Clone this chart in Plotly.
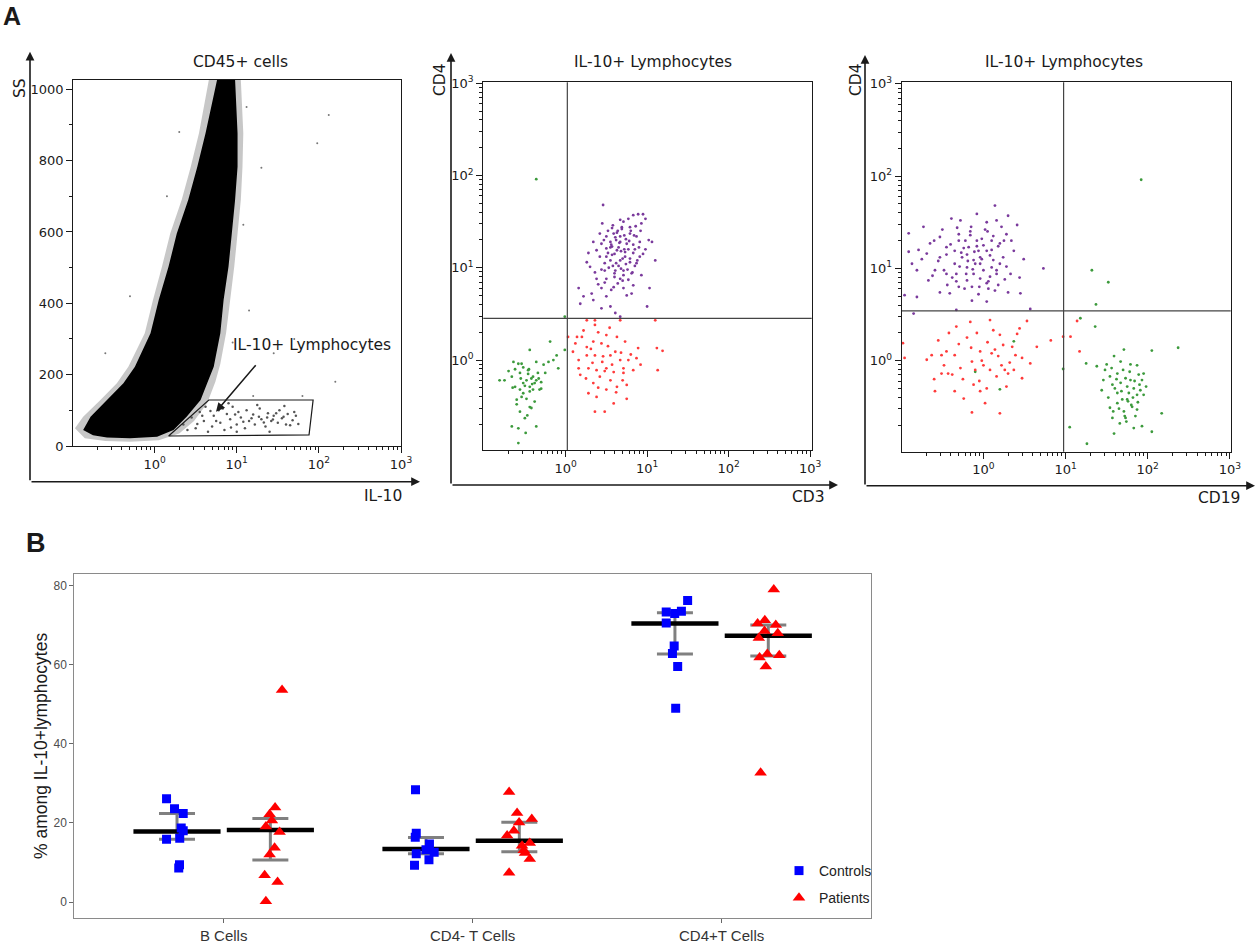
import plotly.graph_objects as go

W, H = 1259, 943

# ---------------- Panel A, left: CD45+ cells (IL-10 vs SS) ----------------
# outline of the dense black cloud (log10 IL-10, SS)
core_il10_log = [-0.87, -0.75, -0.58, -0.30, 0.03, 0.23, 0.39, 0.56, 0.64, 0.72, 0.80, 0.84,
                 0.90, 0.94, 0.98, 1.01, 1.01, 0.98, 0.76, 0.62, 0.52, 0.41, 0.27, 0.17, 0.05,
                 -0.05, -0.24, -0.38, -0.58, -0.78, -0.87]
core_ss = [45, 30, 24, 22, 26, 45, 82, 129, 176, 222, 316, 409, 503, 596, 690, 783, 877, 1026,
           1026, 877, 783, 690, 596, 503, 409, 316, 222, 176, 129, 82, 45]
# outline of the speckled halo round it
halo_il10_log = [-0.97, -0.85, -0.60, -0.30, 0.05, 0.30, 0.48, 0.64, 0.74, 0.80, 0.87, 0.92,
                 0.97, 1.01, 1.05, 1.07, 1.08, 1.05, 0.66, 0.54, 0.44, 0.33, 0.19, 0.09, -0.02,
                 -0.12, -0.32, -0.46, -0.66, -0.87, -0.97]
halo_ss = [50, 22, 14, 12, 16, 35, 70, 120, 180, 230, 316, 409, 503, 596, 690, 783, 877, 1026,
           1026, 877, 783, 690, 596, 503, 409, 316, 222, 176, 129, 82, 50]
# IL-10+ lymphocyte gate
gate_il10 = [1.48, 4.57, 85.1, 75.9, 1.48]
gate_ss = [28, 129, 129, 31, 28]
gate_dots_il10_log = [0.35, 0.45, 0.50, 0.55, 0.60, 0.62, 0.70, 0.72, 0.78, 0.80, 0.85, 0.88,
                      0.92, 0.95, 1.00, 1.02, 1.05, 1.10, 1.12, 1.15, 1.20, 1.22, 1.28, 1.30,
                      1.35, 1.38, 1.42, 1.45, 1.50, 1.52, 1.55, 1.60, 1.62, 1.68, 1.72, 1.75,
                      1.40, 1.00, 0.65, 1.25, 0.90, 1.58, 0.58, 0.75, 0.98, 1.18, 1.33, 1.48,
                      1.65, 0.83, 1.08, 1.27, 1.44, 0.68, 1.57, 0.40, 0.52, 0.93, 1.37, 1.70]
gate_dots_ss = [60, 80, 50, 95, 70, 110, 55, 85, 100, 65, 45, 90, 75, 110, 60, 95, 80, 50, 100,
                70, 88, 60, 105, 75, 55, 92, 70, 85, 65, 100, 78, 60, 90, 72, 85, 62, 40, 40, 40,
                115, 120, 112, 85, 70, 88, 78, 66, 92, 58, 105, 68, 82, 74, 98, 82, 45, 62, 52,
                80, 95]
# sparse events round the cloud
stray_il10_log = [1.98, 2.12, 1.45, 1.70, 1.80, 1.30, 1.15, 2.20, 0.30, -0.30, 1.12, 1.08, 0.95,
                  1.20, 0.15, -0.60]
stray_ss = [849, 928, 260, 300, 140, 780, 380, 180, 880, 420, 950, 620, 290, 140, 700, 260]

# ---------------- Panel A, middle: CD3 vs CD4 (log10 values) ----------------
mid_cd4pos_cd3 = [0.46, 0.45, 0.67, 0.71, 0.77, 0.83, 0.89, 0.95, 0.98, 0.93, 0.79, 0.57, 0.69,
                  0.59, 0.42, 0.50, 0.67, 0.79, 0.87, 0.34, 0.44, 0.55, 0.67, 0.75, 0.83, 0.91,
                  1.02, 1.06, 0.26, 0.38, 0.50, 0.63, 0.73, 0.83, 0.91, 1.10, 0.30, 0.42, 0.55,
                  0.67, 0.79, 0.87, 0.48, 0.61, 0.71, 0.81, 0.93, 0.38, 0.50, 0.67, 0.77, 0.16,
                  0.32, 0.44, 0.59, 0.71, 0.83, 1.03, 0.18, 0.34, 0.44, 0.55, 0.61, 0.67, 1.00,
                  0.22, 0.50, 0.75, 0.28, 0.57, 0.60, 0.65, 0.70, 0.58, 0.74, 0.62, 0.52, 0.68,
                  0.77, 0.56, 0.64, 0.72, 0.48, 0.85, 0.60,
                  0.52, 0.58, 0.63, 0.69, 0.74, 0.80, 0.86, 0.47, 0.55, 0.61, 0.66, 0.72, 0.78,
                  0.84, 0.90, 0.50, 0.57, 0.62, 0.68, 0.73, 0.79, 0.85, 0.44, 0.53, 0.60, 0.65,
                  0.71, 0.76, 0.82, 0.88, 0.40, 0.48, 0.56, 0.64, 0.70, 0.81, 0.95, 0.36, 0.92,
                  0.98]
mid_cd4pos_cd4 = [1.68, 1.48, 1.52, 1.50, 1.53, 1.57, 1.58, 1.58, 1.53, 1.48, 1.44, 1.43, 1.44,
                  1.37, 1.37, 1.34, 1.34, 1.37, 1.34, 1.28, 1.26, 1.28, 1.28, 1.26, 1.25, 1.28,
                  1.30, 1.28, 1.06, 1.19, 1.21, 1.19, 1.17, 1.16, 1.12, 1.08, 1.01, 1.12, 1.08,
                  1.08, 1.06, 1.05, 0.97, 0.97, 0.97, 0.94, 0.92, 0.88, 0.88, 0.88, 0.87, 0.78,
                  0.72, 0.78, 0.79, 0.78, 0.81, 0.78, 0.61, 0.65, 0.56, 0.58, 0.51, 0.47, 0.58,
                  0.69, 0.69, 0.70, 1.16, 1.23, 1.15, 1.22, 1.10, 1.02, 1.04, 1.30, 1.16, 0.99,
                  1.20, 1.25, 1.40, 1.35, 1.05, 1.20, 0.90,
                  1.40, 1.46, 1.38, 1.42, 1.31, 1.40, 1.45, 1.30, 1.22, 1.33, 1.27, 1.20, 1.29,
                  1.35, 1.22, 1.12, 1.14, 1.05, 1.18, 1.12, 1.10, 1.02, 0.98, 1.00, 0.94, 1.02,
                  0.92, 0.98, 0.95, 1.08, 0.82, 0.84, 0.76, 0.83, 0.86, 0.72, 1.15, 0.95, 1.40,
                  1.20]
mid_cd4neg_cd3 = [0.03, 0.14, 0.20, 0.26, 0.36, 0.50, 0.34, 0.44, 0.26, 0.09, 0.16, 0.26, 0.36,
                  0.46, 0.55, 0.61, 0.67, 0.77, 0.89, 0.87, 0.16, 0.28, 0.38, 0.50, 0.59, 0.71,
                  0.83, 1.12, 1.19, 1.13, 1.10, 0.67, 0.18, 0.34, 0.50, 0.63, 0.75, 0.28, 0.38,
                  0.59, 0.75, 0.36, 0.48, 0.71, 0.55, 0.42,
                  0.22, 0.31, 0.40, 0.52, 0.63, 0.73, 0.45, 0.33, 0.57, 0.68, 0.80, 0.25, 0.40,
                  0.48, 0.62, 0.92, 0.12, 0.54, 0.36, 0.70]
mid_cd4neg_cd4 = [0.25, 0.25, 0.25, 0.43, 0.43, 0.27, 0.20, 0.18, 0.14, 0.09, 0.00, 0.05, 0.05,
                  0.04, 0.05, 0.09, 0.00, 0.00, 0.13, 0.02, -0.09, -0.09, -0.11, -0.09, -0.13,
                  -0.09, -0.11, 0.13, 0.10, -0.11, 0.43, 0.43, -0.16, -0.25, -0.32, -0.29, -0.27,
                  -0.36, -0.40, -0.47, -0.42, -0.56, -0.56, -0.14, -0.22, -0.18,
                  0.32, 0.12, 0.30, 0.15, 0.25, 0.20, -0.02, -0.03, -0.05, 0.08, 0.06, -0.20,
                  -0.30, -0.12, -0.35, -0.05, 0.18, 0.35, 0.38, -0.22]
mid_dn_cd3 = [-0.81, -0.75, -0.64, -0.58, -0.54, -0.44, -0.36, -0.66, -0.56, -0.52, -0.48, -0.42,
              -0.38, -0.32, -0.44, -0.56, -0.60, -0.48, -0.40, -0.34, -0.25, -0.21, -0.19, -0.11,
              -0.09, -0.01, -0.01, -0.56, -0.50, -0.42, -0.36, -0.66, -0.58, -0.49, -0.58, -0.36,
              -0.44, -0.52, -0.62, -0.30, -0.46,
              -0.70, -0.62, -0.52, -0.46, -0.40, -0.36, -0.30, -0.50, -0.44, -0.54, -0.60, -0.38,
              -0.47, -0.41, -0.33, -0.27, -0.65, -0.55, -0.45, -0.15]
mid_dn_cd4 = [-0.22, -0.22, -0.02, -0.04, -0.04, 0.11, -0.02, -0.18, -0.14, -0.25, -0.22, -0.20,
              -0.25, -0.32, -0.29, -0.32, -0.43, -0.42, -0.32, -0.14, -0.14, -0.02, 0.20, 0.05,
              -0.09, 0.11, 0.47, -0.56, -0.63, -0.52, -0.72, -0.72, -0.74, -0.79, -0.90, 1.96,
              -0.51, -0.36, -0.29, -0.31, -0.11,
              -0.12, -0.10, -0.08, -0.15, -0.18, -0.22, -0.24, -0.28, -0.34, -0.40, -0.48, -0.45,
              -0.60, -0.26, -0.20, -0.05, -0.30, -0.20, -0.10, 0.00]
mid_cd3_cut = 1.05
mid_cd4_cut = 2.83

# ---------------- Panel A, right: CD19 vs CD4 (log10 values) ----------------
rt_cd4pos_cd19 = [-0.91, -0.73, -0.79, -0.91, -0.87, -0.81, -0.96, -0.81, -0.59, -0.53, -0.45,
                  -0.39, -0.28, -0.30, -0.22, -0.35, -0.26, -0.16, -0.08, -0.08, -0.02, 0.04,
                  0.14, 0.16, 0.30, 0.41, 0.28, 0.20, 0.10, 0.04, -0.04, -0.12, -0.20, -0.33,
                  -0.45, -0.53, -0.69, -0.65, 0.12, 0.24, 0.37, 0.49, 0.33, 0.16, 0.08, -0.04,
                  -0.12, -0.20, -0.30, -0.41, 0.06, 0.18, 0.30, 0.45, 0.73, -0.14, 0.04, -0.33,
                  0.57, -0.53, -0.85, -0.67, 0.00, 0.10, -0.06, -0.18, -0.10, 0.00, -0.20, 0.10,
                  -0.30, 0.05, -0.15, 0.20, -0.05, 0.25,
                  -0.60, -0.50, -0.40, -0.32, -0.24, -0.16, -0.08, 0.02, 0.12, 0.22, -0.55, -0.45,
                  -0.35, -0.27, -0.19, -0.11, -0.02, 0.08, 0.18, 0.28, -0.62, -0.48, -0.38, -0.29,
                  -0.21, -0.13, -0.04, 0.06, 0.16, 0.26, -0.44, -0.33, -0.23, -0.14, -0.06, 0.04,
                  0.14, 0.34, -0.75, 0.44]
rt_cd4pos_cd4 = [1.38, 1.45, 1.20, 1.18, 1.05, 0.98, 0.71, 0.69, 0.98, 1.34, 1.23, 1.54, 1.52,
                 1.37, 1.30, 1.19, 1.12, 1.36, 1.59, 1.30, 1.32, 1.50, 1.68, 1.52, 1.57, 1.47,
                 1.37, 1.27, 1.30, 1.19, 1.12, 1.09, 1.01, 0.94, 0.94, 1.12, 1.16, 1.27, 1.09,
                 1.12, 1.19, 1.10, 0.94, 0.94, 0.91, 0.89, 0.94, 0.87, 0.80, 0.73, 0.78, 0.82,
                 0.74, 0.73, 1.00, 0.65, 0.64, 0.55, 0.56, 0.74, 0.51, 0.87, 0.98, 1.01, 1.19,
                 1.23, 1.05, 1.25, 1.15, 1.20, 1.30, 1.40, 1.45, 1.05, 0.80, 1.30,
                 1.30, 1.42, 1.26, 1.44, 1.22, 1.40, 1.24, 1.42, 1.35, 1.45, 1.08, 1.15, 1.05,
                 1.17, 1.08, 1.18, 1.10, 1.14, 1.24, 1.02, 0.92, 0.98, 0.90, 1.02, 0.94, 0.99,
                 1.05, 0.86, 0.98, 0.88, 0.82, 0.86, 0.78, 0.80, 0.72, 0.84, 0.76, 1.30, 1.10,
                 0.90]
rt_cd4neg_cd19 = [-0.98, -0.96, -0.63, -0.59, -0.51, -0.45, -0.43, -0.35, -0.35, -0.33, -0.24,
                  -0.16, -0.12, -0.10, -0.04, 0.00, 0.04, 0.08, 0.08, 0.12, 0.14, 0.20, 0.24,
                  0.26, 0.30, 0.37, 0.39, 0.41, 0.47, 0.47, 0.53, 0.57, 0.65, 0.82, 0.20, 0.02,
                  -0.14, -0.04, 0.16, -0.28, -0.14, 0.97, 1.06, 1.14, 1.17, -0.51, -0.69,
                  -0.55, -0.42, -0.30, -0.20, -0.08, 0.05, 0.18, 0.32, -0.48, -0.25, -0.02, 0.22,
                  -0.60, -0.38, -0.15, 0.10, 0.35, -0.05, 0.28, 0.44]
rt_cd4neg_cd4 = [0.19, 0.03, 0.06, -0.33, -0.14, 0.10, -0.14, 0.06, -0.33, 0.37, -0.41, 0.42,
                 -0.26, -0.10, 0.10, -0.05, -0.30, 0.44, -0.10, 0.33, 0.12, 0.28, 0.17, -0.10,
                 -0.14, -0.10, 0.06, 0.29, 0.03, -0.19, 0.43, -0.03, 0.15, 0.22, -0.57, -0.46,
                 -0.56, -0.33, -0.17, -0.08, -0.01, 0.26, 0.26, 0.43, 0.10, 0.06, 0.01,
                 0.22, 0.30, 0.18, 0.25, 0.30, 0.20, 0.05, -0.02, -0.05, -0.20, 0.00, -0.05,
                 -0.20, -0.15, 0.14, 0.08, 0.15, -0.22, -0.28, 0.35]
rt_cd19pos_cd19 = [1.32, 1.52, 1.37, 1.18, 1.36, 0.37, 0.20, -0.10, 0.97, 1.05, 1.26, 1.25, 1.38,
                   1.50, 1.59, 1.71, 1.67, 1.79, 1.87, 2.05, 2.37, 1.46, 1.54, 1.63, 1.73, 1.79,
                   1.89, 1.95, 1.93, 1.57, 1.67, 1.75, 1.83, 1.91, 1.44, 1.63, 1.77, 1.87, 1.95,
                   1.69, 1.75, 1.63, 1.81, 1.54, 1.71, 1.87, 1.57, 1.73, 1.85, 2.17, 1.83, 1.93,
                   2.05, 1.59, 1.92,
                   1.48, 1.56, 1.62, 1.70, 1.78, 1.84, 1.90, 1.52, 1.60, 1.68, 1.76, 1.82, 1.88,
                   1.65, 1.72, 1.80, 1.58, 1.66, 1.74, 1.98]
rt_cd19pos_cd4 = [0.98, 0.85, 0.61, 0.46, 0.37, 0.21, -0.31, -0.12, -0.09, -0.72, -0.90, -0.03,
                  -0.06, -0.04, 0.05, 0.12, -0.01, -0.04, -0.05, 0.11, 0.14, -0.21, -0.17, -0.14,
                  -0.19, -0.21, -0.15, -0.14, -0.21, -0.26, -0.24, -0.28, -0.30, -0.32, -0.32,
                  -0.35, -0.35, -0.37, -0.37, -0.42, -0.42, -0.46, -0.50, -0.51, -0.55, -0.53,
                  -0.62, -0.62, -0.60, -0.57, -0.73, -0.71, -0.77, -0.79, 1.96,
                  -0.10, -0.08, -0.20, -0.10, -0.12, -0.22, -0.26, -0.40, -0.30, -0.33, -0.44,
                  -0.40, -0.45, -0.52, -0.60, -0.48, -0.55, -0.68, -0.66, -0.28]
rt_cd19_cut = 9.46
rt_cd4_cut = 3.47

# ---------------- Panel B: % among IL-10+ lymphocytes ----------------
cell_types = ["B Cells", "CD4- T Cells", "CD4+T Cells"]
controls_values = [
    [26.1, 23.6, 22.4, 18.7, 18.0, 15.9, 16.1, 9.4, 8.6],
    [28.4, 17.4, 16.4, 14.7, 13.2, 12.6, 12.2, 10.7, 9.3],
    [76.2, 73.3, 72.9, 73.5, 70.5, 64.7, 62.8, 59.5, 49.0],
]
controls_jitter = [
    [-0.042, -0.010, 0.025, 0.017, 0.025, -0.042, 0.011, 0.010, 0.007],
    [-0.042, -0.039, -0.043, 0.014, 0.000, 0.033, -0.039, 0.012, -0.046],
    [0.051, -0.035, -0.001, 0.026, -0.035, -0.003, -0.010, 0.011, 0.003],
]
patients_values = [
    [53.6, 23.9, 22.2, 20.6, 19.1, 17.7, 13.7, 12.0, 6.8, 5.1, 0.2],
    [27.8, 22.5, 21.0, 20.1, 18.0, 16.8, 14.9, 14.2, 13.1, 12.4, 10.9, 7.4],
    [79.0, 70.4, 71.2, 70.0, 68.5, 67.9, 66.7, 62.7, 62.4, 61.8, 59.5, 32.7],
]
patients_jitter = [
    [0.047, 0.019, -0.003, 0.006, -0.018, 0.037, 0.017, -0.003, -0.023, 0.029, -0.018],
    [-0.041, -0.009, 0.050, -0.001, -0.022, -0.049, 0.042, 0.011, 0.018, 0.023, 0.042, -0.041],
    [0.022, -0.043, -0.014, 0.030, -0.015, 0.038, -0.038, -0.004, 0.044, -0.035, -0.010, -0.031],
]
controls_median = [17.85, 13.4, 70.4]
controls_q1 = [15.9, 12.2, 62.7]
controls_q3 = [22.4, 16.3, 73.1]
patients_median = [18.2, 15.5, 67.3]
patients_q1 = [10.6, 12.7, 62.2]
patients_q3 = [21.1, 20.2, 70.0]

FONT_A = "DejaVu Sans"
FONT_B = "Liberation Sans"
INK = "#1a1a1a"
PURPLE = "#7a3a9c"
RED = "#ff3b3b"
GREEN = "#3c9a3c"


def pow10(vals):
    return [10 ** v for v in vals]


def px(x):
    return x / W


def py(y):
    return 1 - y / H


fig = go.Figure()

# ---- left flow plot ----
fig.add_trace(go.Scatter(x=pow10(halo_il10_log), y=halo_ss, fill="toself", mode="none",
                         fillcolor="rgba(0,0,0,0.22)", xaxis="x", yaxis="y", hoverinfo="skip"))
fig.add_trace(go.Scatter(x=pow10(core_il10_log), y=core_ss, fill="toself", mode="none",
                         fillcolor="black", xaxis="x", yaxis="y", hoverinfo="skip"))
fig.add_trace(go.Scatter(x=pow10(stray_il10_log), y=stray_ss, mode="markers",
                         marker=dict(size=2, color="#777"), xaxis="x", yaxis="y"))
fig.add_trace(go.Scatter(x=pow10(gate_dots_il10_log), y=gate_dots_ss, mode="markers",
                         marker=dict(size=2.5, color="#555"), xaxis="x", yaxis="y"))
fig.add_trace(go.Scatter(x=gate_il10, y=gate_ss, mode="lines",
                         line=dict(color=INK, width=1.2), xaxis="x", yaxis="y"))

# ---- middle flow plot ----
for xs, ys, col in [(mid_dn_cd3, mid_dn_cd4, GREEN), (mid_cd4neg_cd3, mid_cd4neg_cd4, RED),
                    (mid_cd4pos_cd3, mid_cd4pos_cd4, PURPLE)]:
    fig.add_trace(go.Scatter(x=pow10(xs), y=pow10(ys), mode="markers",
                             marker=dict(size=2.8, color=col), xaxis="x2", yaxis="y2"))
fig.add_trace(go.Scatter(x=[mid_cd3_cut, mid_cd3_cut, None, 0.09, 1100],
                         y=[0.1, 1100, None, mid_cd4_cut, mid_cd4_cut], mode="lines",
                         line=dict(color="#444", width=1.2), xaxis="x2", yaxis="y2"))

# ---- right flow plot ----
for xs, ys, col in [(rt_cd19pos_cd19, rt_cd19pos_cd4, GREEN), (rt_cd4neg_cd19, rt_cd4neg_cd4, RED),
                    (rt_cd4pos_cd19, rt_cd4pos_cd4, PURPLE)]:
    fig.add_trace(go.Scatter(x=pow10(xs), y=pow10(ys), mode="markers",
                             marker=dict(size=2.8, color=col), xaxis="x3", yaxis="y3"))
fig.add_trace(go.Scatter(x=[rt_cd19_cut, rt_cd19_cut, None, 0.09, 1100],
                         y=[0.1, 1100, None, rt_cd4_cut, rt_cd4_cut], mode="lines",
                         line=dict(color="#444", width=1.2), xaxis="x3", yaxis="y3"))

# ---- panel B ----
DODGE = 0.1875
HALF = 0.175
for vals, med, q1, q3, sign in [
        (controls_values, controls_median, controls_q1, controls_q3, -1),
        (patients_values, patients_median, patients_q1, patients_q3, 1)]:
    centers = [i + 1 + sign * DODGE for i in range(len(cell_types))]
    fig.add_trace(go.Scatter(
        x=centers, y=med, mode="markers", marker=dict(size=1, color="rgba(0,0,0,0)"),
        error_y=dict(type="data", symmetric=False,
                     array=[b - m for b, m in zip(q3, med)],
                     arrayminus=[m - a for a, m in zip(q1, med)],
                     width=18, thickness=3, color="#808080"),
        xaxis="x4", yaxis="y4"))
    bx, by = [], []
    for c, m in zip(centers, med):
        bx += [c - HALF, c + HALF, None]
        by += [m, m, None]
    fig.add_trace(go.Scatter(x=bx, y=by, mode="lines", line=dict(color="black", width=4.5),
                             xaxis="x4", yaxis="y4"))

for name, vals, jit, sign, sym, col, size in [
        ("Controls", controls_values, controls_jitter, -1, "square", "#0000ff", 9),
        ("Patients", patients_values, patients_jitter, 1, "triangle-up", "#ff0000", 11)]:
    xs, ys = [], []
    for i, (v, j) in enumerate(zip(vals, jit)):
        xs += [i + 1 + sign * DODGE + d for d in j]
        ys += v
    fig.add_trace(go.Scatter(x=xs, y=ys, mode="markers", name=name, showlegend=True,
                             legendgroup=name,
                             marker=dict(symbol=sym, size=size, color=col),
                             xaxis="x4", yaxis="y4"))

for tr in fig.data:
    if tr.name not in ("Controls", "Patients"):
        tr.showlegend = False

# ---- axes ----
minor_log = [k * 10 ** d for d in range(-1, 3) for k in range(2, 10)]
log_ticks = [1, 10, 100, 1000]
log_text = ["10<sup>0</sup>", "10<sup>1</sup>", "10<sup>2</sup>", "10<sup>3</sup>"]
tickfont_a = dict(family=FONT_A, size=13, color=INK)


def flow_axis(domain, rng, anchor, log=True):
    ax = dict(domain=domain, range=rng, anchor=anchor, showline=True, mirror=True,
              linecolor=INK, linewidth=1.2, ticks="outside", ticklen=6, tickcolor=INK,
              showgrid=False, zeroline=False, tickfont=tickfont_a, automargin=False)
    if log:
        ax.update(type="log", tickvals=log_ticks, ticktext=log_text,
                  minor=dict(tickvals=minor_log, ticks="outside", ticklen=3, tickcolor=INK))
    return ax


fig.update_layout(
    xaxis=flow_axis([px(73.3), px(401)], [-0.99, 3.0], "y"),
    yaxis=dict(flow_axis([py(446), py(80)], [0, 1026], "x", log=False),
               tickvals=[0, 200, 400, 600, 800, 1000],
               minor=dict(dtick=100, ticks="outside", ticklen=3, tickcolor=INK)),
    xaxis2=flow_axis([px(483.3), px(811.7)], [-1.01, 3.02], "y2"),
    yaxis2=flow_axis([py(450), py(82.3)], [-0.975, 3.01], "x2"),
    xaxis3=flow_axis([px(901.7), px(1230.7)], [-0.995, 3.01], "y3"),
    yaxis3=flow_axis([py(451.7), py(82.3)], [-0.986, 3.016], "x3"),
    xaxis4=dict(domain=[px(74.3), px(871)], range=[0.4, 3.6], anchor="y4",
                tickvals=[1, 2, 3], ticktext=cell_types, showline=True, mirror=True,
                linecolor="#8a8a8a", linewidth=1, ticks="outside", ticklen=4,
                tickcolor="#666", showgrid=False, zeroline=False, automargin=False,
                tickfont=dict(family=FONT_B, size=15, color="#333")),
    yaxis4=dict(domain=[py(917.7), py(574)], range=[-3.95, 82.9], anchor="x4",
                tickvals=[0, 20, 40, 60, 80], showline=True, mirror=True,
                linecolor="#8a8a8a", linewidth=1, ticks="outside", ticklen=4,
                tickcolor="#666", showgrid=False, zeroline=False, automargin=False,
                tickfont=dict(family=FONT_B, size=12, color="#4d4d4d")),
)

# ---- text and arrows ----
ann = []


def label(text, x, y, size=15.5, angle=0, family=FONT_A, bold=False, xanchor="center"):
    ann.append(dict(text=f"<b>{text}</b>" if bold else text, x=px(x), y=py(y),
                    xref="paper", yref="paper", showarrow=False, textangle=angle,
                    xanchor=xanchor, yanchor="middle",
                    font=dict(family=family, size=size, color=INK)))


def arrow(x, y, ax, ay):
    ann.append(dict(text="", x=px(x), y=py(y), xref="paper", yref="paper", ax=ax, ay=ay,
                    axref="pixel", ayref="pixel", showarrow=True, arrowhead=2,
                    arrowsize=1.1, arrowwidth=1.6, arrowcolor=INK))


label("A", 1, 16, size=25, family="Liberation Sans", bold=True, xanchor="left")
label("B", 24, 543, size=27, family="Liberation Sans", bold=True, xanchor="left")

label("CD45+ cells", 240, 62)
label("IL-10+ Lymphocytes", 653, 62)
label("IL-10+ Lymphocytes", 1064, 62)
label("IL-10+ Lymphocytes", 312, 345)
label("SS", 20, 88, angle=-90)
label("IL-10", 383, 496)
label("CD4", 440, 80, angle=-90)
label("CD3", 808, 497)
label("CD4", 856, 80, angle=-90)
label("CD19", 1219, 498)
label("% among IL-10+lymphocytes", 41, 746, size=17.5, angle=-90, family=FONT_B)

arrow(30, 51.7, 0, 430)
arrow(420, 481.7, -390, 0)
arrow(451, 53, 0, 432)
arrow(838, 485, -387, 0)
arrow(865, 55, 0, 431)
arrow(1255, 485.7, -390, 0)
arrow(216, 411.7, 41, -48)

fig.update_layout(
    width=W, height=H, margin=dict(l=0, r=0, t=0, b=0, autoexpand=False),
    paper_bgcolor="white", plot_bgcolor="white",
    annotations=ann,
    legend=dict(x=px(779), y=py(855), xanchor="left", yanchor="top",
                bgcolor="rgba(0,0,0,0)", tracegroupgap=6, itemwidth=30,
                font=dict(family=FONT_B, size=14, color="#222")),
)

# the page body has a default 8px margin; drop it so the figure fills the window
fig.write_html("out.html", config={"displayModeBar": False},
               post_script="document.body.style.margin = '0';")
